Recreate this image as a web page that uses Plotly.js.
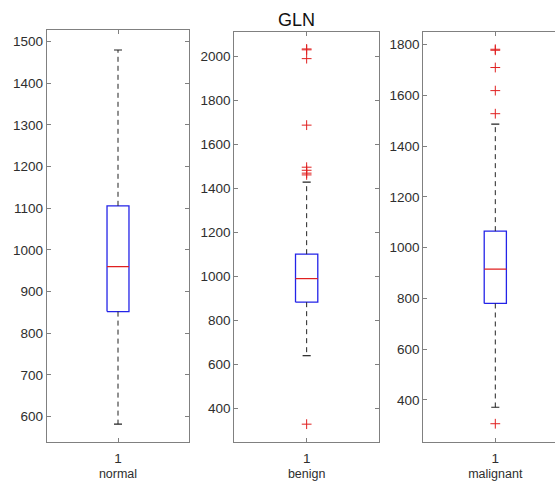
<!DOCTYPE html>
<html>
<head>
<meta charset="utf-8">
<script src="https://cdn.plot.ly/plotly-3.0.1.min.js"></script>
<style>
html,body{margin:0;padding:0;overflow:hidden;background:#fff;}
#chart{width:570px;height:482px;}
</style>
</head>
<body>
<div id="chart"></div>
<script>
// ---- data ----
const groups = ['normal', 'benign', 'malignant'];
const q1 = [852, 884, 780];
const medians = [960, 991, 915];
const q3 = [1106, 1102, 1065];
const whiskerLow = [582, 641, 371];
const whiskerHigh = [1480, 1429, 1487];
const outliers = [
  [],
  [2034, 2030, 1990, 1688, 1497, 1483, 1470, 1462, 330],
  [1782, 1778, 1710, 1619, 1528, 306]
];
const mainTitle = 'GLN';

// ---- layout helpers (positions/styles) ----
const W = 570, H = 482;
const xDom = [[46.7, 189.3], [234.3, 379], [423.3, 567.3]];
const yDom = [[30, 442], [32, 442], [32, 442]];
const yRanges = [[539, 1528], [249, 2111], [234, 1850]];
const dticks = [100, 200, 200];
const boxHalf = 0.077, capHalf = 0.028;
const textColor = '#2e2e2e', axisColor = '#808080';
const font = 'Liberation Sans, Arial, sans-serif';

const traces = [];
const layout = {
  width: W, height: H,
  margin: {l: 0, r: 0, t: 0, b: 0},
  paper_bgcolor: '#ffffff', plot_bgcolor: '#ffffff',
  showlegend: false, hovermode: false,
  font: {family: font, color: textColor, size: 13},
  annotations: [{
    text: mainTitle, xref: 'paper', yref: 'paper',
    x: 296.7 / W, y: 1 - 20 / H, xanchor: 'center', yanchor: 'middle',
    showarrow: false, font: {size: 18, color: '#111111', family: font}
  }],
  shapes: [{
    type: 'rect', xref: 'paper', yref: 'paper', layer: 'above',
    x0: 555 / W, x1: 1, y0: 0, y1: 1, fillcolor: '#ffffff', line: {width: 0}
  }]
};

groups.forEach((g, i) => {
  const n = i === 0 ? '' : String(i + 1);
  const xa = 'x' + n, ya = 'y' + n;
  // box
  traces.push({
    type: 'scatter', mode: 'lines', xaxis: xa, yaxis: ya,
    x: [1 - boxHalf, 1 + boxHalf, 1 + boxHalf, 1 - boxHalf, 1 - boxHalf],
    y: [q1[i], q1[i], q3[i], q3[i], q1[i]],
    line: {color: '#2323e8', width: 1.3}
  });
  // median
  traces.push({
    type: 'scatter', mode: 'lines', xaxis: xa, yaxis: ya,
    x: [1 - boxHalf, 1 + boxHalf], y: [medians[i], medians[i]],
    line: {color: '#e02020', width: 1.2}
  });
  // whiskers (dashed)
  traces.push({
    type: 'scatter', mode: 'lines', xaxis: xa, yaxis: ya,
    x: [1, 1, null, 1, 1], y: [q3[i], whiskerHigh[i], null, q1[i], whiskerLow[i]],
    line: {color: '#222222', width: 1, dash: '5px,4px'}
  });
  // caps
  traces.push({
    type: 'scatter', mode: 'lines', xaxis: xa, yaxis: ya,
    x: [1 - capHalf, 1 + capHalf, null, 1 - capHalf, 1 + capHalf],
    y: [whiskerHigh[i], whiskerHigh[i], null, whiskerLow[i], whiskerLow[i]],
    line: {color: '#222222', width: 1.2}
  });
  // outliers
  if (outliers[i].length) {
    traces.push({
      type: 'scatter', mode: 'markers', xaxis: xa, yaxis: ya,
      x: outliers[i].map(() => 1), y: outliers[i],
      marker: {symbol: 'cross-thin', size: 7, color: '#e02020', line: {color: '#e02020', width: 1}}
    });
  }
  layout['xaxis' + n] = {
    domain: [xDom[i][0] / W, xDom[i][1] / W], anchor: ya,
    range: [0.5, 1.5], tickvals: [1], ticktext: ['1'],
    ticks: 'inside', ticklen: 4, tickcolor: axisColor,
    showline: true, linecolor: axisColor, linewidth: 1, mirror: 'ticks',
    showgrid: false, zeroline: false, fixedrange: true,
    ticklabelstandoff: 4,
    tickfont: {size: 13.5, color: textColor},
    title: {text: g, font: {size: 12.5, color: textColor}, standoff: 4}
  };
  layout['yaxis' + n] = {
    domain: [1 - yDom[i][1] / H, 1 - yDom[i][0] / H], anchor: xa,
    range: yRanges[i], dtick: dticks[i], tick0: 0,
    ticks: 'inside', ticklen: 4, tickcolor: axisColor,
    showline: true, linecolor: axisColor, linewidth: 1, mirror: 'ticks',
    showgrid: false, zeroline: false, fixedrange: true,
    tickfont: {size: 13.5, color: textColor}
  };
});

Plotly.newPlot('chart', traces, layout, {staticPlot: true, displayModeBar: false});
</script>
</body>
</html>
